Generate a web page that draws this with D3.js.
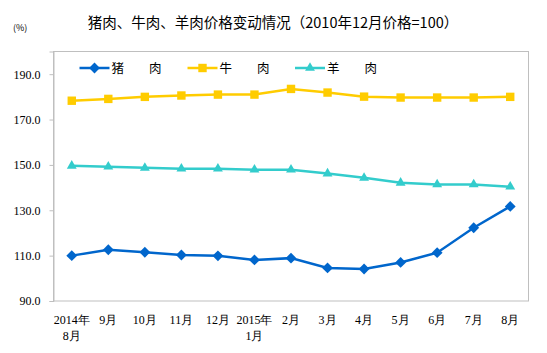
<!DOCTYPE html>
<html><head><meta charset="utf-8">
<script src="https://cdn.jsdelivr.net/npm/d3@7"></script>
<style>
body{margin:0;background:#fff;}
svg{display:block;}
</style></head>
<body>
<svg id="chart" width="547" height="353"></svg>
<script>
const categories = ["2014年\n8月","9月","10月","11月","12月","2015年\n1月","2月","3月","4月","5月","6月","7月","8月"];
const pork   = [110.0,112.6,111.5,110.3,109.9,108.1,108.9,104.6,104.1,107.0,111.3,122.3,131.7];
const beef   = [178.3,179.1,180.0,180.6,181.0,181.0,183.5,181.9,180.1,179.7,179.7,179.7,180.0];
const mutton = [149.6,149.2,148.7,148.3,148.3,147.9,147.9,146.2,144.3,142.1,141.4,141.4,140.4];
const yTicks = [90,110,130,150,170,190];
const seriesNames = ["猪　　肉","牛　　肉","羊　　肉"];

const series = [
  {name: seriesNames[0], values: pork, color: "#0066CC", symbol: d3.symbolDiamond2, size: 75},
  {name: seriesNames[1], values: beef, color: "#FFCC00", symbol: d3.symbolSquare2, size: 90},
  {name: seriesNames[2], values: mutton, color: "#33CCCC", symbol: d3.symbolTriangle2, size: 70}
];

const svg = d3.select("#chart");
const L = 53.5, R = 528.5, T = 51.5, B = 301;

const x = d3.scaleBand().domain(d3.range(categories.length)).range([L, R]);
const y = d3.scaleLinear().domain([90, 200]).range([B, T]);

// title
svg.append("text").attr("x", 273).attr("y", 28).attr("text-anchor","middle")
  .attr("font-family","'Noto Sans CJK SC', sans-serif").attr("font-size",14.5).attr("fill","#000")
  .text("猪肉、牛肉、羊肉价格变动情况（2010年12月价格=100）");
svg.append("text").attr("x", 13).attr("y", 31)
  .attr("font-family","'Noto Sans CJK SC', sans-serif").attr("font-size",9).attr("fill","#000")
  .text("(%)");

// plot frame
svg.append("rect").attr("x", L).attr("y", T).attr("width", R-L).attr("height", B-T)
  .attr("fill","none").attr("stroke","#BFBFBF").attr("stroke-width",1);

// y axis
const yAxis = d3.axisLeft(y).tickValues(yTicks).tickSize(4).tickFormat(d3.format(".1f"));
const gy = svg.append("g").attr("transform",`translate(${L},0)`).call(yAxis);
gy.select(".domain").attr("stroke","#BFBFBF");
gy.selectAll(".tick line").attr("stroke","#BFBFBF");
gy.selectAll(".tick text").attr("x",-13).attr("font-family","'Times New Roman','Liberation Serif',serif")
  .attr("font-size",12).attr("fill","#000");

// x axis labels
const xAxis = d3.axisBottom(x).tickSize(0).tickFormat(i => categories[i]);
const gx = svg.append("g").attr("transform",`translate(0,${B})`).call(xAxis);
gx.select(".domain").remove();
gx.selectAll(".tick text").each(function(i){
  const t = d3.select(this);
  const lines = categories[i].split("\n");
  t.text(null).attr("y",0).attr("dy",null)
   .attr("font-family","'Times New Roman','Liberation Serif',serif").attr("font-size",12).attr("fill","#000");
  lines.forEach((ln,k)=>{
    t.append("tspan").attr("x",0).attr("y", 23 + k*16).text(ln);
  });
});

// lines
const line = d3.line().x((d,i)=>x(i)+x.bandwidth()/2).y(d=>y(d));
series.forEach(s=>{
  svg.append("path").datum(s.values).attr("d", line)
    .attr("fill","none").attr("stroke", s.color).attr("stroke-width",2.5);
  svg.append("g").selectAll("path").data(s.values).join("path")
    .attr("transform",(d,i)=>`translate(${x(i)+x.bandwidth()/2},${y(d)})`)
    .attr("d", d3.symbol().type(s.symbol).size(s.size)).attr("fill", s.color);
});

// legend
const legX = [79.5, 187.5, 295];
const leg = svg.append("g");
series.forEach((s,k)=>{
  const g = leg.append("g").attr("transform",`translate(${legX[k]},68)`);
  g.append("line").attr("x1",0).attr("x2",30).attr("y1",0).attr("y2",0)
    .attr("stroke",s.color).attr("stroke-width",2.5);
  g.append("path").attr("transform","translate(15,0)")
    .attr("d", d3.symbol().type(s.symbol).size(s.size)).attr("fill", s.color);
  g.append("text").attr("x",32).attr("y",4.5)
    .attr("font-family","'Noto Sans CJK SC', sans-serif").attr("font-size",12.5).attr("fill","#000")
    .text(s.name);
});
</script>
</body></html>
